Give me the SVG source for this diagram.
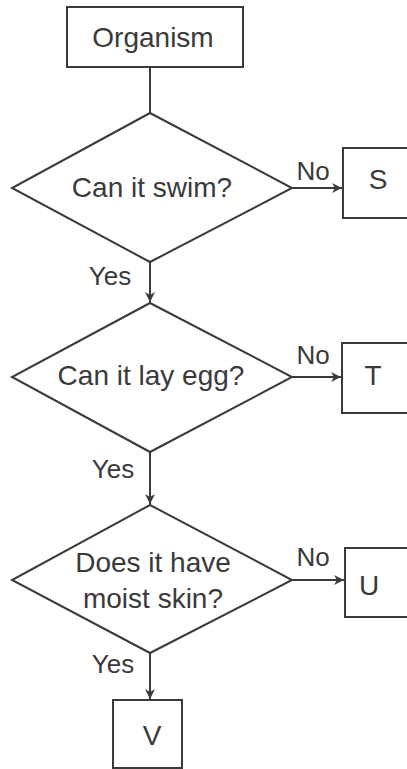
<svg xmlns="http://www.w3.org/2000/svg" width="407" height="769" viewBox="0 0 407 769">
<style>
.shape{fill:#fff;stroke:#3a3a3a;stroke-width:2}
.line{fill:none;stroke:#3a3a3a;stroke-width:2}
text{font-family:"Liberation Sans",Arial,sans-serif;fill:#3a3a3a;text-anchor:middle}
.t{font-size:28px}
.lbl{font-size:26px}
</style>
<defs>
<marker id="ah" viewBox="0 0 10 10" refX="10" refY="5" markerWidth="10" markerHeight="10" markerUnits="userSpaceOnUse" orient="auto">
<path d="M0,0 L10,5 L0,10 L3,5 Z" fill="#3a3a3a"/>
</marker>
</defs>
<rect width="407" height="769" fill="#fff"/>
<g id="connectors">
<line class="line" x1="150" y1="67" x2="150" y2="113"/>
<line class="line" x1="292" y1="188" x2="342" y2="188" marker-end="url(#ah)"/>
<line class="line" x1="150" y1="262" x2="150" y2="302" marker-end="url(#ah)"/>
<line class="line" x1="292" y1="377" x2="341" y2="377" marker-end="url(#ah)"/>
<line class="line" x1="150" y1="452" x2="150" y2="504" marker-end="url(#ah)"/>
<line class="line" x1="292" y1="580" x2="344" y2="580" marker-end="url(#ah)"/>
<line class="line" x1="150" y1="653" x2="150" y2="699" marker-end="url(#ah)"/>
<text class="lbl" x="313" y="180">No</text>
<text class="lbl" x="110" y="285">Yes</text>
<text class="lbl" x="313" y="364">No</text>
<text class="lbl" x="113" y="478">Yes</text>
<text class="lbl" x="313" y="566">No</text>
<text class="lbl" x="113" y="673">Yes</text>
</g>
<g id="organism">
<rect class="shape" x="67" y="7" width="176" height="60"/>
<text class="t" x="153" y="47">Organism</text>
</g>
<g id="q1">
<polygon class="shape" points="150,113 292,188 150,262 12,188"/>
<text class="t" x="152" y="197">Can it swim?</text>
</g>
<g id="s">
<rect class="shape" x="343" y="148" width="80" height="70"/>
<text class="t" x="378" y="189">S</text>
</g>
<g id="q2">
<polygon class="shape" points="150,303 292,377 150,452 12,377"/>
<text class="t" x="151" y="385">Can it lay egg?</text>
</g>
<g id="t">
<rect class="shape" x="342" y="343" width="80" height="70"/>
<text class="t" x="373" y="385">T</text>
</g>
<g id="q3">
<polygon class="shape" points="150,505 292,580 150,653 12,580"/>
<text class="t" x="153" y="572">Does it have</text>
<text class="t" x="153" y="608">moist skin?</text>
</g>
<g id="u">
<rect class="shape" x="345" y="548" width="80" height="69"/>
<text class="t" x="369" y="595">U</text>
</g>
<g id="v">
<rect class="shape" x="113" y="700" width="69" height="68"/>
<text class="t" x="152" y="745">V</text>
</g>
</svg>
